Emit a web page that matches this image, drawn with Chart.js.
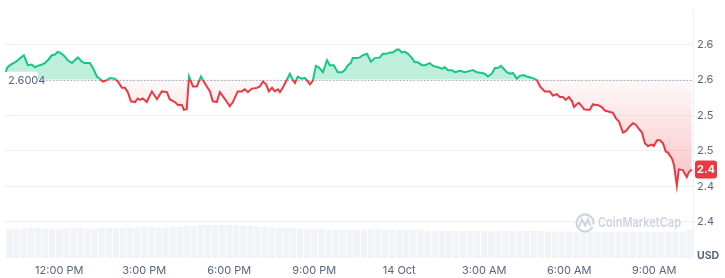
<!DOCTYPE html>
<html>
<head>
<meta charset="utf-8">
<script src="https://cdn.jsdelivr.net/npm/chart.js@4.4.1/dist/chart.umd.min.js"></script>
<style>
  html, body { margin: 0; padding: 0; background: #fff; }
  #wrap { width: 725px; height: 278px; }
</style>
</head>
<body>
<div id="wrap"><canvas id="priceChart" width="725" height="278"></canvas></div>
<script>
// hours since midnight of 13 Oct (24 = 14 Oct 00:00)
const times = [
  10.08, 10.15, 10.26, 10.43, 10.54, 10.68, 10.75, 10.82, 10.89, 11.03, 11.14, 11.24, 11.39, 11.49, 11.60, 11.74, 11.85, 11.95,
  12.09, 12.20, 12.30, 12.45, 12.55, 12.66, 12.80, 12.90, 13.08, 13.19, 13.33, 13.43, 13.54, 13.68, 13.79, 13.96, 14.07,
  14.21, 14.32, 14.42, 14.53, 14.67, 14.77, 14.85, 14.95, 15.09, 15.27, 15.45, 15.62, 15.80, 15.90, 16.08, 16.19, 16.33,
  16.40, 16.50, 16.58, 16.72, 16.86, 17.00, 17.07, 17.21, 17.32, 17.42, 17.56, 17.67, 17.78, 17.92, 18.02,
  18.13, 18.30, 18.44, 18.55, 18.66, 18.80, 18.98, 19.08, 19.19, 19.30, 19.40, 19.51, 19.61, 19.72, 19.79, 19.89, 20.03,
  20.14, 20.25, 20.32, 20.42, 20.56, 20.67, 20.74, 20.85, 20.95, 21.06, 21.16, 21.31, 21.45, 21.55, 21.69, 21.83, 21.98, 22.08,
  22.19, 22.29, 22.36, 22.51, 22.61, 22.72, 22.86, 23.00, 23.14, 23.32, 23.42, 23.56, 23.67, 23.78, 23.92, 23.99, 24.09,
  24.20, 24.31, 24.45, 24.55, 24.66, 24.80, 24.91, 25.08, 25.19, 25.37, 25.51, 25.61, 25.72, 25.86, 25.97, 26.14,
  26.32, 26.50, 26.60, 26.74, 26.92, 27.02, 27.13, 27.27, 27.38, 27.48, 27.59, 27.66, 27.80, 27.91, 28.01, 28.15, 28.26,
  28.37, 28.51, 28.69, 28.86,
  28.97, 29.14, 29.32, 29.42, 29.57, 29.67, 29.78, 29.88, 29.99, 30.10, 30.17, 30.27, 30.34, 30.45, 30.52, 30.62, 30.73,
  30.84, 30.91, 31.01, 31.15, 31.26, 31.44, 31.54, 31.65, 31.75, 31.90, 32.00, 32.14, 32.25, 32.35, 32.46, 32.57, 32.67,
  32.78, 32.92, 32.99, 33.10, 33.20, 33.31, 33.41, 33.48, 33.63, 33.70, 33.80, 33.87, 34.01, 34.15, 34.22, 34.33
];
const prices = [
  2.603, 2.617, 2.621, 2.625, 2.628, 2.633, 2.635, 2.628, 2.621, 2.622, 2.618, 2.620, 2.622, 2.624, 2.628, 2.635, 2.636, 2.640,
  2.637, 2.633, 2.628, 2.624, 2.628, 2.632, 2.626, 2.624, 2.624, 2.617, 2.605, 2.602, 2.598, 2.600, 2.603, 2.602, 2.598,
  2.589, 2.589, 2.583, 2.570, 2.569, 2.574, 2.572, 2.574, 2.569, 2.584, 2.573, 2.584, 2.583, 2.573, 2.569, 2.565, 2.565,
  2.558, 2.559, 2.605, 2.591, 2.591, 2.605, 2.600, 2.591, 2.584, 2.570, 2.569, 2.583, 2.577, 2.569, 2.563,
  2.569, 2.584, 2.584, 2.587, 2.583, 2.588, 2.589, 2.591, 2.598, 2.594, 2.584, 2.589, 2.584, 2.587, 2.583, 2.589, 2.600,
  2.609, 2.600, 2.596, 2.605, 2.602, 2.603, 2.600, 2.594, 2.599, 2.620, 2.618, 2.611, 2.628, 2.621, 2.621, 2.611, 2.611, 2.614,
  2.621, 2.624, 2.631, 2.631, 2.632, 2.635, 2.637, 2.626, 2.631, 2.632, 2.637, 2.637, 2.639, 2.639, 2.643, 2.643, 2.639,
  2.640, 2.637, 2.631, 2.625, 2.625, 2.621, 2.621, 2.624, 2.620, 2.618, 2.616, 2.618, 2.614, 2.614, 2.611, 2.613,
  2.611, 2.613, 2.614, 2.611, 2.610, 2.609, 2.605, 2.609, 2.617, 2.617, 2.620, 2.617, 2.611, 2.609, 2.610, 2.602, 2.606,
  2.607, 2.605, 2.603, 2.600,
  2.591, 2.584, 2.584, 2.578, 2.580, 2.576, 2.576, 2.572, 2.576, 2.570, 2.562, 2.566, 2.568, 2.563, 2.559, 2.558, 2.558,
  2.566, 2.565, 2.565, 2.562, 2.557, 2.555, 2.554, 2.546, 2.542, 2.526, 2.528, 2.535, 2.539, 2.537, 2.531, 2.526, 2.511,
  2.507, 2.509, 2.507, 2.515, 2.515, 2.511, 2.499, 2.498, 2.489, 2.480, 2.451, 2.474, 2.473, 2.463, 2.470, 2.474
];

// volume, every 15 min
const volTimes = [
  10.25, 10.50, 10.75, 11.00, 11.25, 11.50, 11.75, 12.00, 12.25,
  12.50, 12.75, 13.00, 13.25, 13.50, 13.75, 14.00, 14.25,
  14.50, 14.75, 15.00, 15.25, 15.50, 15.75, 16.00, 16.25,
  16.50, 16.75, 17.00, 17.25, 17.50, 17.75, 18.00, 18.25,
  18.50, 18.75, 19.00, 19.25, 19.50, 19.75, 20.00, 20.25,
  20.50, 20.75, 21.00, 21.25, 21.50, 21.75, 22.00, 22.25,
  22.50, 22.75, 23.00, 23.25, 23.50, 23.75, 24.00, 24.25,
  24.50, 24.75, 25.00, 25.25, 25.50, 25.75, 26.00, 26.25,
  26.50, 26.75, 27.00, 27.25, 27.50, 27.75, 28.00, 28.25,
  28.50, 28.75, 29.00, 29.25, 29.50, 29.75, 30.00, 30.25,
  30.50, 30.75, 31.00, 31.25, 31.50, 31.75, 32.00, 32.25,
  32.50, 32.75, 33.00, 33.25, 33.50, 33.75, 34.00, 34.25
];
const volumes = [
  30, 30, 30, 31, 31, 30, 30, 30, 30,
  31, 31, 30, 30, 31, 31, 31, 31,
  31, 31, 32, 32, 31, 31, 32, 32,
  33, 33, 34, 34, 34, 34, 34, 34,
  33, 33, 32, 32, 31, 31, 31, 31,
  30, 30, 30, 30, 29, 29, 29, 29,
  29, 29, 30, 30, 29, 29, 29, 29,
  29, 29, 28, 28, 28, 28, 28, 28,
  28, 28, 28, 28, 28, 28, 28, 28,
  28, 28, 28, 27, 27, 27, 27, 27,
  27, 27, 27, 27, 27, 27, 27, 27,
  27, 27, 27, 27, 27, 27, 27, 29
];

const xTickHours = [12, 15, 18, 21, 24, 27, 30, 33];
const xTickLabels = ['12:00 PM', '3:00 PM', '6:00 PM', '9:00 PM', '14 Oct', '3:00 AM', '6:00 AM', '9:00 AM'];
const yTickValues = [2.40, 2.45, 2.50, 2.55, 2.60, 2.65];
const yTickLabels = ['2.4', '2.4', '2.5', '2.5', '2.6', '2.6'];

const openPrice = 2.6004;
const openLabel = '2.6004';
const lastLabel = '2.4';

const GREEN = '#16c784';
const RED = '#ea3943';
const TEXT = '#58667e';

const overlay = {
  id: 'overlay',
  beforeDatasetsDraw(chart) {
    const { ctx, chartArea: a, scales } = chart;
    ctx.save();
    // watermark
    ctx.strokeStyle = '#cfd4de';
    ctx.lineWidth = 2.2;
    ctx.beginPath();
    ctx.arc(585, 223, 8.5, 0.15 * Math.PI, 2.05 * Math.PI);
    ctx.stroke();
    ctx.lineWidth = 2;
    ctx.beginPath();
    ctx.moveTo(579, 227);
    ctx.lineTo(582, 219.5);
    ctx.lineTo(585, 225.5);
    ctx.lineTo(588, 219.5);
    ctx.lineTo(590.5, 226);
    ctx.stroke();
    ctx.fillStyle = '#cfd4de';
    ctx.font = '600 13px Inter';
    ctx.textBaseline = 'middle';
    ctx.fillText('CoinMarketCap', 598, 223.5, 83);

    // dotted open-price line
    const by = Math.round(scales.y.getPixelForValue(openPrice)) + 0.5;
    ctx.strokeStyle = '#a9b1bd';
    ctx.lineWidth = 1;
    ctx.setLineDash([1.5, 2]);
    ctx.beginPath();
    ctx.moveTo(a.left, by);
    ctx.lineTo(a.right, by);
    ctx.stroke();
    ctx.restore();
  },
  afterDatasetsDraw(chart) {
    const { ctx, chartArea: a, scales } = chart;
    const by = scales.y.getPixelForValue(openPrice);
    ctx.save();
    // open price label
    ctx.fillStyle = '#fff';
    ctx.beginPath();
    ctx.roundRect(a.left, by - 8, 34, 16, 3);
    ctx.fill();
    ctx.fillStyle = TEXT;
    ctx.font = '11px Inter';
    ctx.textBaseline = 'middle';
    ctx.textAlign = 'left';
    ctx.fillText(openLabel, a.left + 4, by + 0.5);

    // last price badge
    const ly = scales.y.getPixelForValue(prices[prices.length - 1]);
    ctx.fillStyle = RED;
    ctx.beginPath();
    ctx.roundRect(a.right + 2, ly - 9, 22, 18, 3);
    ctx.fill();
    ctx.fillStyle = '#fff';
    ctx.font = 'bold 11px Inter';
    ctx.textAlign = 'center';
    ctx.fillText(lastLabel, a.right + 13, ly + 0.5);

    // currency
    ctx.fillStyle = TEXT;
    ctx.font = 'bold 10.5px Inter';
    ctx.textAlign = 'left';
    ctx.fillText('USD', a.right + 4, 256);
    ctx.restore();
  }
};

const canvas = document.getElementById('priceChart');
const ctx = canvas.getContext('2d');

const chart = new Chart(ctx, {
  type: 'line',
  data: {
    datasets: [
      {
        type: 'line',
        data: times.map((t, i) => ({ x: t, y: prices[i] })),
        yAxisID: 'y',
        borderColor: GREEN,
        borderWidth: 2,
        pointRadius: 0,
        tension: 0,
        fill: {
          target: { value: openPrice },
          above: 'rgba(22,199,132,0.28)',
          below: 'rgba(234,57,67,0.08)',
        },
        order: 1,
      },
      {
        type: 'bar',
        data: volTimes.map((t, i) => ({ x: t, y: volumes[i] })),
        yAxisID: 'vol',
        backgroundColor: 'rgba(207,214,228,0.3)',
        barPercentage: 0.88,
        categoryPercentage: 1,
        order: 2,
      },
    ],
  },
  options: {
    responsive: false,
    animation: false,
    layout: { padding: { left: 4, top: 4, right: 0, bottom: 0 } },
    plugins: {
      legend: { display: false },
      tooltip: { enabled: false },
    },
    scales: {
      x: {
        type: 'linear',
        min: 10.05,
        max: 34.37,
        offset: false,
        grid: { display: false, drawTicks: false },
        border: { display: false },
        afterBuildTicks: s => { s.ticks = xTickHours.map(v => ({ value: v })); },
        afterFit: s => { s.height = 20; },
        ticks: {
          padding: 6,
          autoSkip: false,
          maxRotation: 0,
          color: TEXT,
          font: { family: 'Inter', size: 11 },
          callback: v => xTickLabels[xTickHours.indexOf(v)],
        },
      },
      y: {
        position: 'right',
        min: 2.349,
        max: 2.698,
        grid: { color: '#eff2f5', drawTicks: false },
        border: { display: true, color: '#eff2f5' },
        afterBuildTicks: s => { s.ticks = yTickValues.map(v => ({ value: v })); },
        afterFit: s => { s.width = 32; },
        ticks: {
          padding: 4,
          color: TEXT,
          font: { family: 'Inter', size: 11 },
          callback: v => yTickLabels[yTickValues.indexOf(v)],
        },
      },
      vol: {
        display: false,
        min: 0,
        max: 254,
      },
    },
  },
  plugins: [overlay],
});

// split line colour and red fill gradient at the open price
const area = chart.chartArea;
const baseY = chart.scales.y.getPixelForValue(openPrice);
const stop = (baseY - area.top) / (area.bottom - area.top);
const lineGrad = ctx.createLinearGradient(0, area.top, 0, area.bottom);
lineGrad.addColorStop(0, GREEN);
lineGrad.addColorStop(stop, GREEN);
lineGrad.addColorStop(stop, RED);
lineGrad.addColorStop(1, RED);

const lowY = chart.scales.y.getPixelForValue(2.45);
const redGrad = ctx.createLinearGradient(0, baseY, 0, lowY);
redGrad.addColorStop(0, 'rgba(234,57,67,0.03)');
redGrad.addColorStop(1, 'rgba(234,57,67,0.30)');

const ds = chart.data.datasets[0];
ds.borderColor = lineGrad;
ds.fill.below = redGrad;
chart.update('none');
</script>
</body>
</html>
